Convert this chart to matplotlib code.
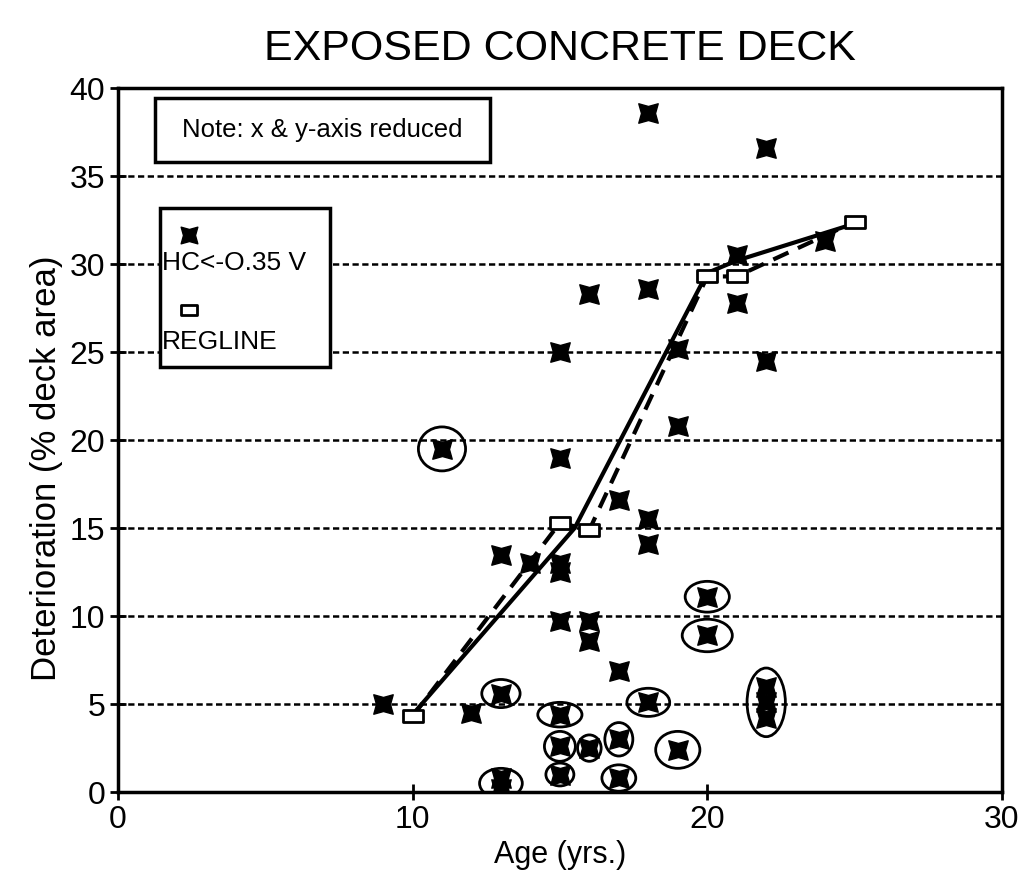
import matplotlib
matplotlib.use("Agg")
import matplotlib.pyplot as plt
from matplotlib.path import Path
from matplotlib.patches import Ellipse, Rectangle

plt.rcParams['font.family'] = ['Liberation Sans', 'DejaVu Sans']

# Inspection data (age in years, deterioration % of deck area)
age = [9, 11, 12, 13, 13, 13, 13, 14, 15, 15, 15, 15, 15, 15, 15, 15,
       16, 16, 16, 16, 17, 17, 17, 17, 18, 18, 18, 18, 18, 19, 19, 19,
       20, 20, 21, 21, 22, 22, 22, 22, 22, 24]
deterioration = [5.0, 19.5, 4.5, 13.5, 5.6, 0.8, 0.2, 13.0, 25.0, 19.0, 13.0, 12.5, 9.7, 4.4, 2.6, 1.0,
                 28.3, 9.7, 8.6, 2.5, 16.6, 6.9, 3.0, 0.8, 38.6, 28.6, 15.5, 14.1, 5.1, 25.2, 20.8, 2.4,
                 11.1, 8.9, 30.5, 27.8, 36.6, 24.5, 6.0, 5.1, 4.2, 31.3]

# regression line points
reg_age = [10, 15, 16, 20, 21, 25]
reg_val = [4.3, 15.3, 14.9, 29.3, 29.3, 32.4]

# smoothed trend (solid)
trend_age = [10, 15.5, 20, 21, 25]
trend_val = [4.4, 15.0, 29.5, 30.2, 32.3]

# circled points: centre (age, value) and ellipse size (w, h) in data units
circ_age = [11, 13, 13, 15, 15, 15, 16, 17, 17, 18, 19, 20, 20, 22]
circ_val = [19.5, 5.6, 0.5, 4.4, 2.6, 1.0, 2.5, 3.0, 0.8, 5.1, 2.4, 11.1, 8.9, 5.1]
circ_w = [1.6, 1.3, 1.45, 1.5, 1.05, 0.95, 0.8, 0.95, 1.15, 1.45, 1.5, 1.5, 1.7, 1.3]
circ_h = [2.5, 1.6, 1.7, 1.4, 1.7, 1.3, 1.5, 1.9, 1.5, 1.6, 2.1, 1.75, 1.85, 3.9]

# fat concave "X" marker
star = Path([(-1, -1), (0, -0.72), (1, -1), (0.72, 0), (1, 1), (0, 0.72),
             (-1, 1), (-0.72, 0), (-1, -1)], closed=True)
rect = Path([(-1, -0.6), (1, -0.6), (1, 0.6), (-1, 0.6), (-1, -0.6)], closed=True)

fig = plt.figure(figsize=(10.33, 8.9), dpi=100)
ax = fig.add_axes([0.114, 0.110, 0.856, 0.791])

for yv in range(5, 40, 5):
    ax.axhline(yv, color='black', lw=1.8, ls=(0, (2.5, 1.4)), zorder=1)

ax.plot(trend_age, trend_val, color='black', lw=3, zorder=3)
ax.plot(reg_age, reg_val, color='black', lw=3, ls=(0, (4, 2.5)), zorder=3)
ax.plot(reg_age, reg_val, ls='none', marker=rect, ms=14, mfc='white',
        mec='black', mew=2, zorder=4)
ax.plot(age, deterioration, ls='none', marker=star, ms=14, color='black', zorder=5)

for cx, cy, w, h in zip(circ_age, circ_val, circ_w, circ_h):
    ax.add_patch(Ellipse((cx, cy), w, h, fill=False, ec='black', lw=2, zorder=6))

ax.set_xlim(0, 30)
ax.set_ylim(0, 40)
ax.set_xticks([0, 10, 20, 30])
ax.set_yticks(range(0, 45, 5))
ax.tick_params(direction='inout', length=12, width=2, labelsize=23, pad=3)
for s in ax.spines.values():
    s.set_linewidth(2.5)

ax.set_title('EXPOSED CONCRETE DECK', fontsize=31, pad=20)
ax.set_xlabel('Age (yrs.)', fontsize=22, labelpad=4)
ax.set_ylabel('Deterioration (% deck area)', fontsize=25)
ax.yaxis.set_label_coords(-0.062, 0.46)

# note box
ax.add_patch(Rectangle((0.042, 0.895), 0.379, 0.091, transform=ax.transAxes,
                       fill=False, ec='black', lw=2.5, zorder=7))
ax.text(0.231, 0.940, 'Note: x & y-axis reduced', transform=ax.transAxes,
        ha='center', va='center', fontsize=18.5)

# legend box
ax.add_patch(Rectangle((0.0475, 0.604), 0.193, 0.226, transform=ax.transAxes,
                       fc='white', ec='black', lw=2.5, zorder=7))
ax.plot([0.081], [0.791], transform=ax.transAxes, marker=star, ms=12,
        color='black', ls='none', zorder=8)
ax.text(0.050, 0.752, 'HC<-O.35 V', transform=ax.transAxes, ha='left',
        va='center', fontsize=19, zorder=8)
ax.plot([0.081], [0.685], transform=ax.transAxes, marker=rect, ms=12,
        mfc='white', mec='black', mew=2, ls='none', zorder=8)
ax.text(0.050, 0.640, 'REGLINE', transform=ax.transAxes, ha='left',
        va='center', fontsize=19, zorder=8)

fig.savefig('out.png', dpi=100)
